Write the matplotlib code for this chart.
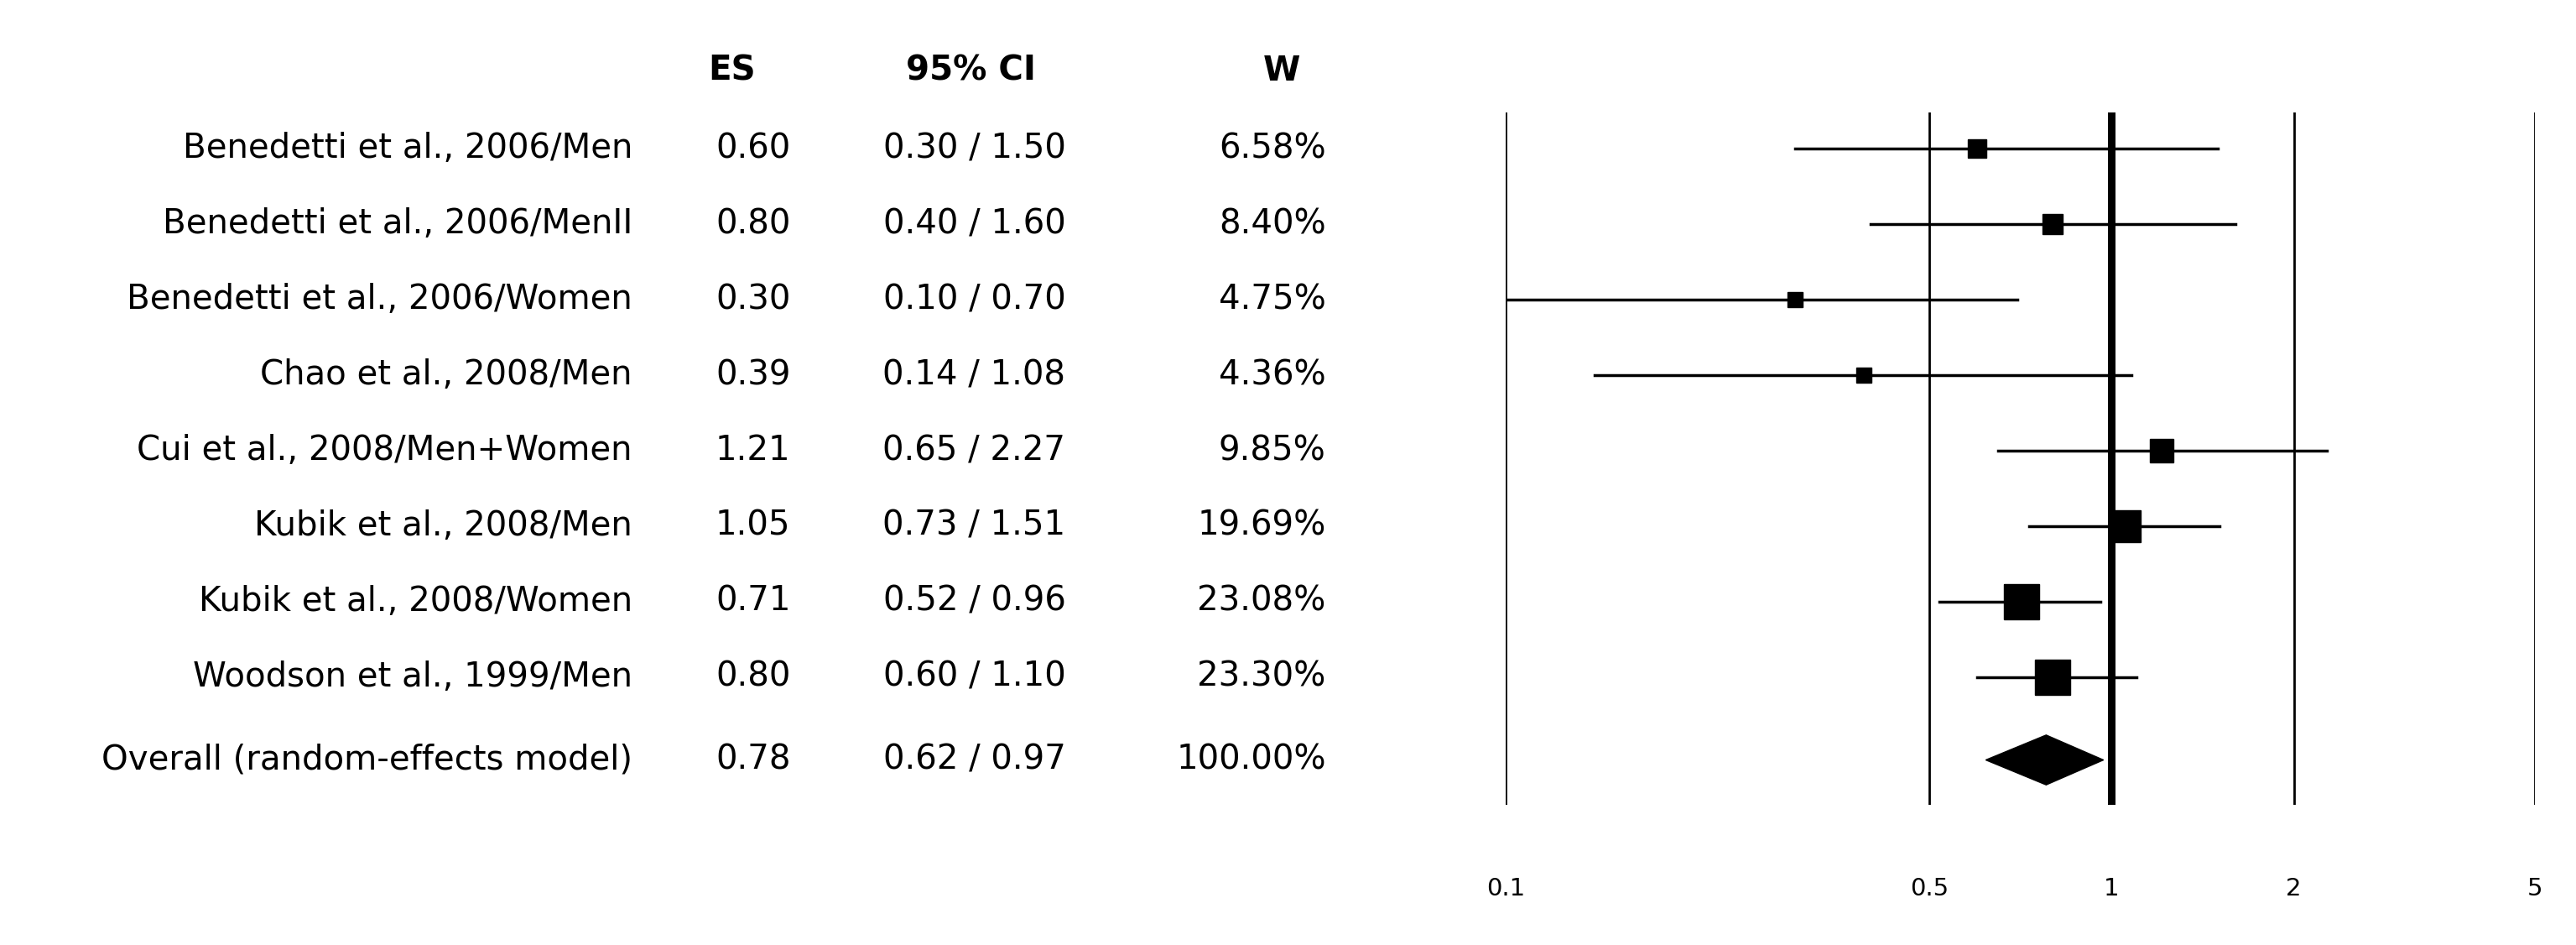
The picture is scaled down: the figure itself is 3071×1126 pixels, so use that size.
import matplotlib.pyplot as plt
import numpy as np

plt.rcParams['font.family'] = ['DejaVu Sans']

studies = ['Benedetti et al., 2006/Men', 'Benedetti et al., 2006/MenII',
           'Benedetti et al., 2006/Women', 'Chao et al., 2008/Men',
           'Cui et al., 2008/Men+Women', 'Kubik et al., 2008/Men',
           'Kubik et al., 2008/Women', 'Woodson et al., 1999/Men']
es = [0.60, 0.80, 0.30, 0.39, 1.21, 1.05, 0.71, 0.80]
lo = [0.30, 0.40, 0.10, 0.14, 0.65, 0.73, 0.52, 0.60]
hi = [1.50, 1.60, 0.70, 1.08, 2.27, 1.51, 0.96, 1.10]
w = [6.58, 8.40, 4.75, 4.36, 9.85, 19.69, 23.08, 23.30]
overall = (0.78, 0.62, 0.97, 100.00)
ticks = [0.1, 0.5, 1, 2, 5]

W, H = 1560, 572  # reference display units
fig = plt.figure(figsize=(30.71, 11.26), dpi=100)
ax = fig.add_axes([912 / W, 1 - 487 / H, (1535 - 912) / W, (487 - 68) / H])
ax.set_xscale('log')
ax.set_xlim(0.1, 5)
step = 45.7
ax.set_ylim((487 - 90) / step, (68 - 90) / step)
for s in ax.spines.values():
    s.set_visible(False)
ax.set_yticks([])
ax.set_xticks(ticks)
ax.set_xticklabels([f'{t:g}' for t in ticks], fontsize=21)
ax.tick_params(axis='x', length=0, pad=62)
ax.minorticks_off()
for t in ticks:
    ax.axvline(t, color='black', lw=6.5 if t == 1 else 2, zorder=1)

ys = np.arange(len(studies))
for y, e, l, h, wt in zip(ys, es, lo, hi, w):
    ax.plot([l, h], [y, y], color='black', lw=2.5, zorder=2)
    ax.plot(e, y, marker='s', color='black', ms=6.2 * np.sqrt(wt), zorder=3)

yo = (460 - 90) / step
oe, ol, oh, ow = overall
ax.fill([ol, oe, oh, oe], [yo, yo - 0.33, yo, yo + 0.33], color='black', zorder=3)

fs = 29
def fy(y):
    return 1 - (90 + y * step) / H

for y, name, e, l, h, wt in zip(ys, studies, es, lo, hi, w):
    fig.text(383 / W, fy(y), name, ha='right', va='center', fontsize=fs)
    fig.text(456 / W, fy(y), f'{e:.2f}', ha='center', va='center', fontsize=fs)
    fig.text(590 / W, fy(y), f'{l:.2f} / {h:.2f}', ha='center', va='center', fontsize=fs)
    fig.text(803 / W, fy(y), f'{wt:.2f}%', ha='right', va='center', fontsize=fs)
fig.text(383 / W, fy(yo), 'Overall (random-effects model)', ha='right', va='center', fontsize=fs)
fig.text(456 / W, fy(yo), f'{oe:.2f}', ha='center', va='center', fontsize=fs)
fig.text(590 / W, fy(yo), f'{ol:.2f} / {oh:.2f}', ha='center', va='center', fontsize=fs)
fig.text(803 / W, fy(yo), f'{ow:.2f}%', ha='right', va='center', fontsize=fs)

hy = 1 - 43 / H
fig.text(443 / W, hy, 'ES', ha='center', va='center', fontsize=fs, fontweight='bold')
fig.text(588 / W, hy, '95% CI', ha='center', va='center', fontsize=fs, fontweight='bold')
fig.text(776 / W, hy, 'W', ha='center', va='center', fontsize=fs, fontweight='bold')

fig.savefig('out.png', dpi=100)
